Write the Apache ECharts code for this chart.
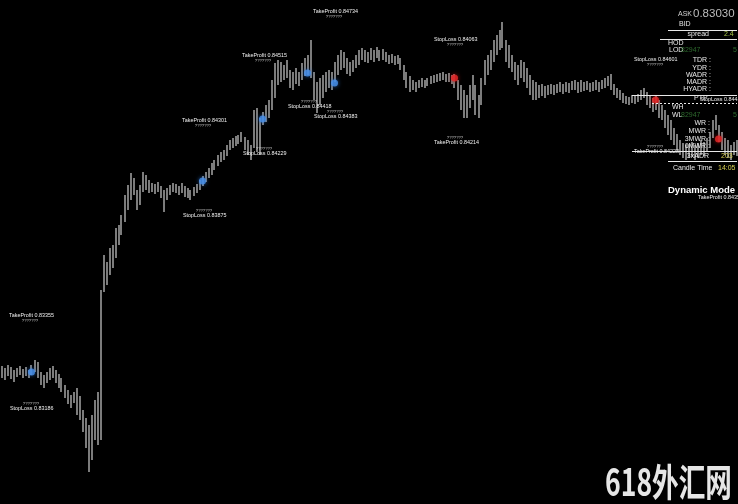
<!DOCTYPE html>
<html>
<head>
<meta charset="utf-8">
<script src="https://cdn.jsdelivr.net/npm/echarts@6/dist/echarts.min.js"></script>
<style>html,body{margin:0;padding:0;background:#000;}#c{width:738px;height:504px;}</style>
</head>
<body>
<div id="c"></div>
<script>
// Prices in points (0.00001). Each bar: high and low.
const highPts = [82970,82960,82975,82965,82950,82960,82970,82955,82965,82950,82975,83000,82990,82940,82925,82940,82960,82970,82950,82930,
82910,82875,82850,82825,82840,82860,82820,82750,82710,82675,82725,82800,82840,83350,83525,83490,83560,83575,83660,83675,
83725,83825,83875,83935,83910,83850,83875,83940,83925,83900,83885,83880,83890,83870,83850,83860,83875,83885,83880,83870,
83885,83870,83860,83850,83865,83880,83900,83920,83940,83960,83985,84000,84025,84040,84050,84075,84100,84110,84120,84125,
84140,84115,84100,84075,84250,84260,84210,84240,84275,84300,84400,84485,84500,84490,84475,84500,84450,84440,84460,84440,
84485,84510,84525,84600,84440,84390,84410,84425,84440,84450,84440,84490,84525,84550,84540,84510,84490,84500,84525,84550,
84560,84550,84540,84560,84550,84565,84550,84555,84540,84525,84530,84520,84525,84510,84475,84440,84420,84400,84390,84400,
84410,84400,84410,84420,84425,84430,84435,84440,84430,84435,84425,84430,84400,84375,84350,84325,84375,84425,84375,84325,
84410,84500,84525,84550,84600,84625,84650,84690,84600,84575,84525,84490,84475,84500,84490,84460,84425,84400,84390,84375,
84380,84370,84375,84380,84375,84380,84390,84380,84390,84385,84395,84400,84390,84400,84390,84395,84385,84390,84400,84390,
84400,84410,84420,84430,84380,84360,84350,84335,84320,84315,84325,84320,84330,84350,84360,84340,84325,84310,84320,84300,
84275,84250,84225,84200,84160,84130,84100,84085,84075,84080,84090,84075,84085,84100,84090,84110,84140,84200,84225,84175,
84140,84110,84100,84075,84090,84100];
const lowPts = [82910,82900,82920,82905,82890,82915,82925,82910,82920,82910,82925,82940,82910,82875,82860,82885,82900,82910,82885,82860,
82840,82810,82780,82760,82785,82725,82700,82640,82560,82440,82500,82600,82575,82600,83340,83375,83425,83460,83510,83575,
83625,83690,83750,83800,83825,83750,83775,83840,83850,83835,83840,83830,83840,83810,83740,83800,83825,83840,83835,83825,
83835,83815,83810,83800,83820,83835,83850,83870,83890,83910,83925,83950,83970,83990,84000,84020,84050,84060,84070,84080,
84090,84050,84025,84000,84060,84040,84025,84175,84190,84210,84250,84310,84375,84390,84400,84410,84360,84350,84380,84370,
84400,84420,84425,84410,84300,84235,84275,84310,84340,84360,84350,84390,84425,84450,84460,84430,84420,84440,84460,84475,
84500,84490,84485,84500,84490,84510,84495,84500,84490,84480,84485,84475,84480,84450,84400,84360,84340,84350,84340,84360,
84365,84360,84370,84380,84385,84390,84395,84400,84390,84390,84380,84360,84300,84250,84210,84210,84260,84300,84225,84210,
84275,84375,84425,84450,84490,84525,84550,84560,84490,84460,84440,84400,84375,84410,84390,84360,84325,84300,84300,84310,
84320,84310,84325,84330,84325,84335,84340,84330,84340,84335,84350,84350,84335,84340,84345,84350,84340,84345,84350,84340,
84355,84360,84370,84350,84325,84310,84300,84285,84280,84275,84285,84280,84290,84300,84310,84275,84260,84240,84250,84210,
84200,84160,84125,84100,84075,84050,84025,84010,84000,84010,84015,84000,84010,84025,84020,84040,84060,84110,84150,84090,
84050,84025,84010,84000,84025,84020];

// Signal dots: [bar index, price in points]
const blueSignals = [[10,82940],[67,83895],[87,84205],[102,84435],[111,84385]];
const redSignals = [[151,84410],[218,84300],[239,84105]];

// Trade annotation texts
const tradeLabels = ['TakeProfit 0.83355','StopLoss 0.83186','StopLoss 0.83875','TakeProfit 0.84301','StopLoss 0.84229',
'TakeProfit 0.84515','StopLoss 0.84418','StopLoss 0.84383','TakeProfit 0.84734','StopLoss 0.84063','TakeProfit 0.84214',
'StopLoss 0.84601','TakeProfit 0.84228','StopLoss 0.84411','TakeProfit 0.84355'];

// Info panel texts
const askPrice = '0.83030';
const spreadValue = '2.4';
const lowValue = '82947';
const adrValue = '203';
const candleTime = '14:05';

// ---- layout (positions only) ----
const labelLayout = [[9,316,1],[10,409,-1],[183,216,-1],[182,121,1],[243,154,-1],[242,56,1],[288,107,-1],[314,117,-1],
[313,12,1],[434,40,1],[434,143,-1],[634,60,1],[634,152,-1],[700,100,0],[698,198,0]];

const categories = highPts.map((_, i) => i);
const barData = highPts.map((h, i) => [i, lowPts[i], h]);

const graphics = [];
function txt(t, x, y, size, fill, align, weight, family) {
  graphics.push({type:'text', x:x, y:y, silent:true, z:100,
    style:{text:t, x:0, y:0, fill:fill, textAlign:align||'left', textVerticalAlign:'middle',
      font:(weight||'normal')+' '+size+'px '+(family||'"Liberation Sans", Arial, sans-serif')}});
}
function hline(x1, x2, y, dash) {
  graphics.push({type:'line', silent:true, z:100, shape:{x1:x1,y1:y,x2:x2,y2:y},
    style:{stroke:'#e8e8e8', lineWidth:1, lineDash: dash ? [2,2] : null}});
}
tradeLabels.forEach((t, k) => {
  const [x, y, d] = labelLayout[k];
  txt(t, x, y, 5.4, '#f0f0f0');
  if (d !== 0) txt('???????', x + 21, y + d * 5, 4.2, '#d0d0d0', 'center');
});

// panel
txt('ASK', 678, 14, 7, '#d0d0d0');
txt(askPrice, 693, 14, 11.5, '#bdbdbd');
txt('BID', 679, 24, 7, '#e0e0e0');
hline(668, 737, 30.5);
txt('spread', 709, 34, 7, '#e8e8e8', 'right');
txt(spreadValue, 724, 34, 7, '#a8c848');
hline(660, 737, 39.5);
txt('HOD', 668, 43, 7, '#e8e8e8');
txt('LOD', 669, 50, 7, '#e8e8e8');
txt(lowValue, 681, 50, 7, '#2e6a2e');
txt('5', 733, 50, 7, '#2e6a2e');
txt('TDR :', 711, 60, 7, '#e8e8e8', 'right');
txt('YDR :', 711, 68, 7, '#e8e8e8', 'right');
txt('WADR :', 711, 75, 7, '#e8e8e8', 'right');
txt('MADR :', 711, 82, 7, '#e8e8e8', 'right');
txt('HYADR :', 711, 89, 7, '#e8e8e8', 'right');
hline(632, 737, 95.5);
txt('PTP', 694, 98, 7, '#e8e8e8');
hline(652, 737, 103.5, true);
txt('WH', 672, 107, 7, '#e8e8e8');
txt('WL', 672, 115, 7, '#e8e8e8');
txt(lowValue, 681, 115, 7, '#2e6a2e');
txt('5', 733, 115, 7, '#2e6a2e');
txt('WR :', 710, 123, 7, '#e8e8e8', 'right');
txt('MWR :', 710, 131, 7, '#e8e8e8', 'right');
txt('3MWR :', 710, 139, 7, '#e8e8e8', 'right');
txt('6MWR :', 710, 146, 7, '#e8e8e8', 'right');
hline(632, 737, 151.5);
txt('3xADR', 709, 156, 7, '#e8e8e8', 'right');
txt(adrValue, 721, 156, 7, '#d8d050');
hline(668, 737, 161.5);
txt('Candle Time', 673, 168, 7, '#e8e8e8');
txt(candleTime, 718, 168, 7, '#d8d050');
txt('Dynamic Mode', 668, 190, 9.5, '#ffffff', 'left', 'bold');

// watermark
graphics.push({type:'text', x:605, y:482, scaleX:0.7, silent:true, z:100,
  style:{text:'618外汇网', x:0, y:0, fill:'#e6e6e6', textAlign:'left', textVerticalAlign:'middle',
    font:'bold 38px "Noto Sans CJK SC", sans-serif'}});

const chart = echarts.init(document.getElementById('c'));
chart.setOption({
  backgroundColor:'#000000',
  animation:false,
  grid:{left:0, right:0, top:0, bottom:0},
  xAxis:{type:'category', data:categories, show:false, boundaryGap:true},
  yAxis:{type:'value', min:82280, max:84800, show:false, scale:true},
  series:[
    {type:'custom', data:barData, encode:{x:0, y:[1,2]},
     renderItem:function(params, api){
       const lo = api.coord([api.value(0), api.value(1)]);
       const hi = api.coord([api.value(0), api.value(2)]);
       const x = Math.round(lo[0]);
       return {type:'line', shape:{x1:x, y1:hi[1], x2:x, y2:lo[1]},
         style:{stroke:'#7c7c7c', lineWidth:2}};
     }},
    {type:'scatter', data:blueSignals, symbolSize:7, z:5,
     itemStyle:{color:'#4a92ec', shadowColor:'#2a70d0', shadowBlur:4}},
    {type:'scatter', data:redSignals, symbolSize:7, z:5,
     itemStyle:{color:'#e82828', shadowColor:'#b01010', shadowBlur:4}}
  ],
  graphic:graphics
});
</script>
</body>
</html>
